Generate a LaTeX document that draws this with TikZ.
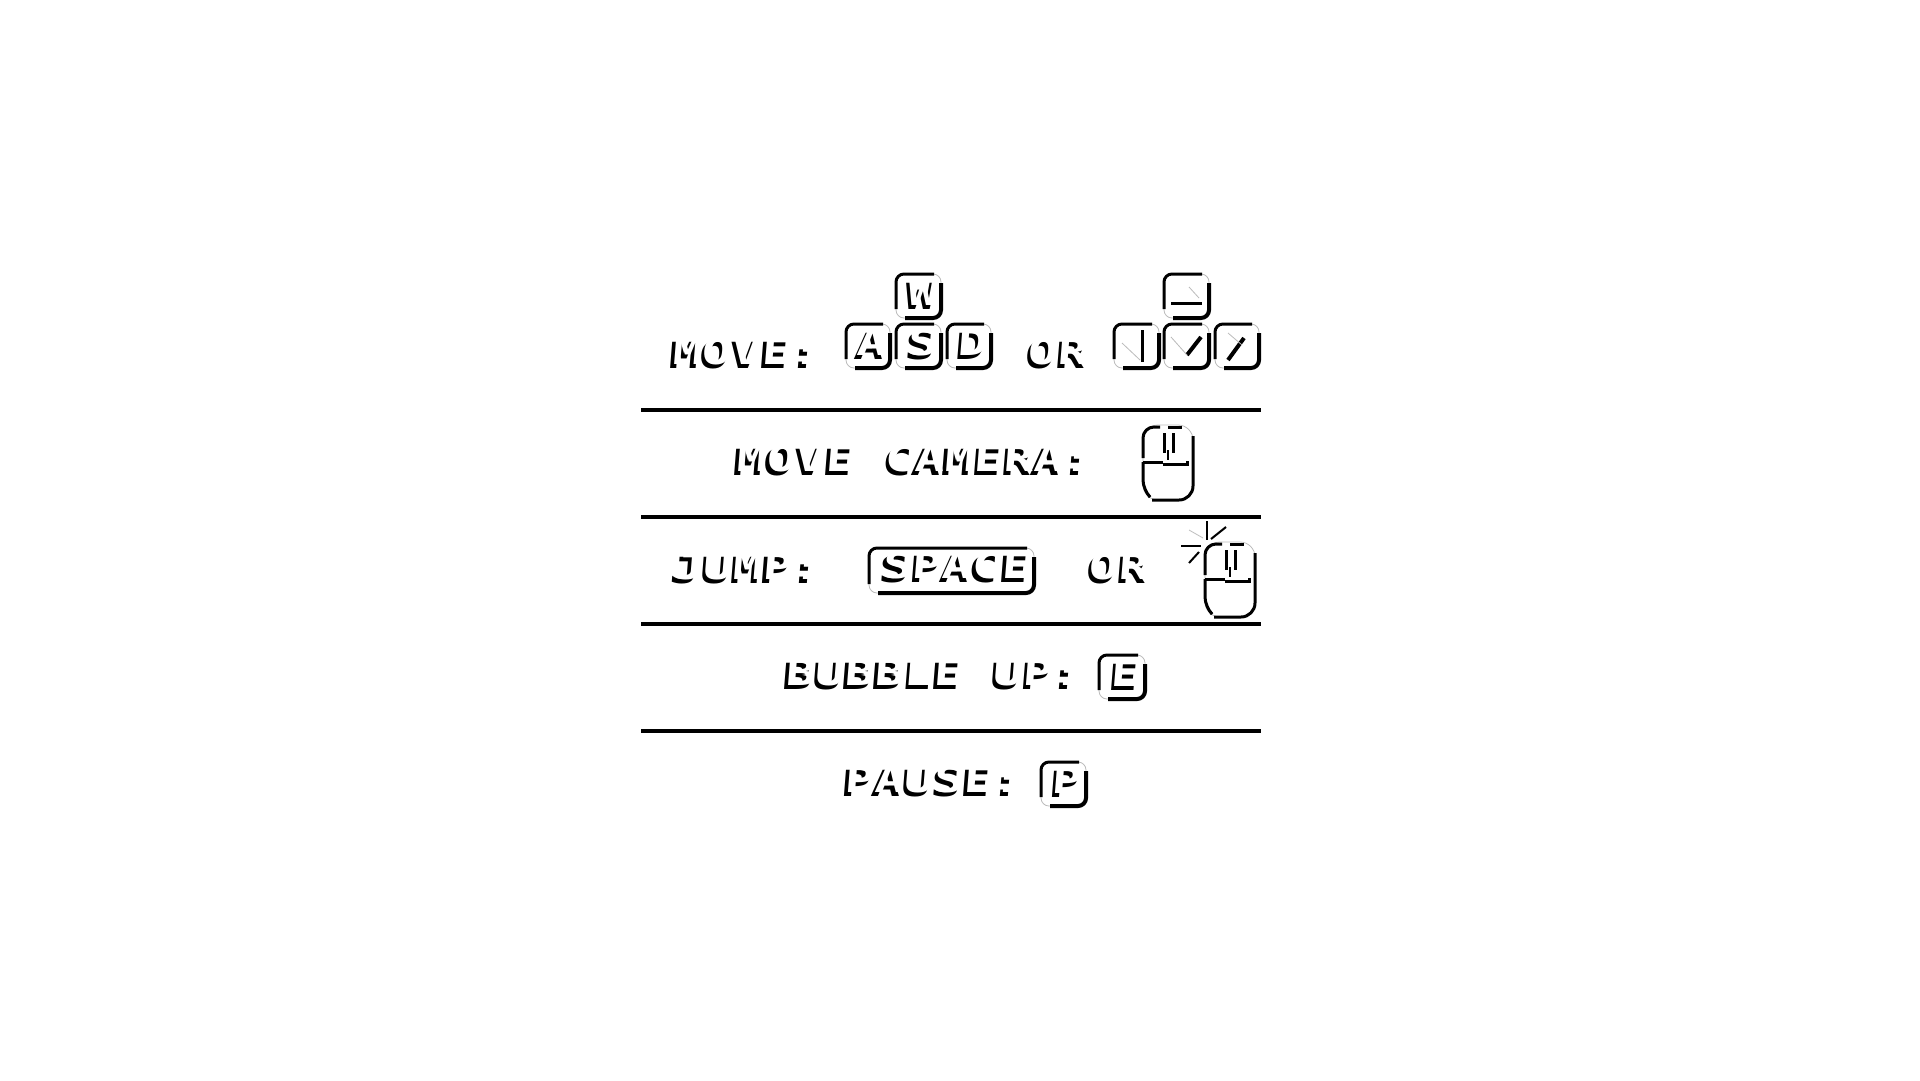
\documentclass[tikz,border=0pt]{standalone}
\usepackage{fontspec}
\newfontfamily\pixfont[FakeStretch=1.37,FakeSlant=0.08]{DejaVu Sans Mono Bold}
\definecolor{faint}{HTML}{BBBBBB}
\tikzset{
  rule/.style={line width=3.5pt,black},
  ink/.style={line width=3pt,black},
  faintline/.style={line width=0.8pt,faint},
  pixblack/.style={font=\pixfont\fontsize{36}{36}\selectfont,text=black,inner sep=0pt,text height=26pt,text depth=0pt},
  pixwhite/.style={font=\pixfont\fontsize{36}{36}\selectfont,text=white,inner sep=0pt,text height=26pt,text depth=0pt},
}
% name, centre x, centre y, text
\newcommand\shlabel[4]{%
  \node[pixblack] (#1) at (#2,#3) {#4};
  \node[pixwhite] (#1w) at ({#2+3.5},{#3-3.5}) {#4};
}
% name, x0, y0, x1, y1
\newcommand\keyframe[5]{%
  \coordinate (#1) at ({(#2+#4)/2},{(#3+#5)/2});
  \draw[faintline,rounded corners=8pt] (#2,#3) rectangle (#4,#5);
  \draw[ink,rounded corners=8pt] (#2,{#5-9}) -- (#2,#3) -- ({#4-7},#3);
  \draw[ink,line width=4pt,rounded corners=8pt] ({#2+9},#5) -- (#4,#5) -- (#4,{#3+9});
}
% name, shift x, shift y
\newcommand\mousebody[3]{%
  \begin{scope}[shift={(#2,#3)}]
    \coordinate (#1) at (1168,462);
    \draw[faintline,rounded corners=15pt] (1143,425) rectangle (1193,500);
    \draw[ink,rounded corners=11pt] (1143,458) -- (1143,427) -- (1160,427);
    \draw[ink,rounded corners=3pt] (1168,427) -- (1182,427);
    \draw[ink,rounded corners=14pt] (1193,436) -- (1193,500) -- (1152,500);
    \draw[ink,rounded corners=10pt] (1149,496) -- (1143,490) -- (1143,462);
    \draw[ink] (1143,462) -- (1163,462);
    \draw[ink] (1163,464) -- (1187,464) -- (1187,461);
    \draw[ink] (1164,433) -- (1164,453);
    \draw[ink] (1173,433) -- (1173,453);
    \draw[ink,line width=2pt] (1168,450) -- (1168,460);
  \end{scope}
}
\begin{document}
\begin{tikzpicture}[x=1pt,y=-1pt]
\useasboundingbox (0,0) rectangle (1920,1080);
\fill[white] (0,0) rectangle (1920,1080);

% rules
\coordinate (r1a) at (641,410); \coordinate (r1b) at (1261,410);
\coordinate (r2a) at (641,517); \coordinate (r2b) at (1261,517);
\coordinate (r3a) at (641,624); \coordinate (r3b) at (1261,624);
\coordinate (r4a) at (641,731); \coordinate (r4b) at (1261,731);
\draw[rule] (r1a) -- (r1b);
\draw[rule] (r2a) -- (r2b);
\draw[rule] (r3a) -- (r3b);
\draw[rule] (r4a) -- (r4b);

% row 1
\shlabel{move}{743}{355}{MOVE:}
\keyframe{kw}{896}{274}{941}{318}
\shlabel{lw}{919}{296}{W}
\keyframe{ka}{846}{324}{890}{368}
\shlabel{la}{868}{346}{A}
\keyframe{ks}{896}{324}{941}{368}
\shlabel{ls}{919}{346}{S}
\keyframe{kd}{947}{324}{991}{368}
\shlabel{ld}{969}{346}{D}
\shlabel{or1}{1054}{355}{OR}
\keyframe{kup}{1164}{274}{1209}{318}
\keyframe{kleft}{1114}{324}{1159}{368}
\keyframe{kdown}{1164}{324}{1209}{368}
\keyframe{kright}{1215}{324}{1259}{368}
\draw[ink] (1171,303) -- (1202,303);
\draw[faintline] (1189,287) -- (1199,298);
\draw[ink] (1142,330) -- (1142,362);
\draw[faintline] (1122,343) -- (1140,360);
\draw[ink,line width=4pt] (1187,355) -- (1201,337);
\draw[faintline] (1171,337) -- (1187,355);
\draw[ink,line width=4pt] (1228,360) -- (1244,338);
\draw[faintline] (1228,333) -- (1242,345);

% row 2
\shlabel{cam}{911}{462}{MOVE CAMERA:}
\mousebody{m1}{0}{0}

% row 3
\shlabel{jump}{744}{570}{JUMP:}
\keyframe{kspace}{869}{548}{1034}{593}
\shlabel{lspace}{953}{569}{SPACE}
\shlabel{or2}{1115}{570}{OR}
\mousebody{m2}{62}{117}
\draw[ink,line width=2pt] (1206.5,521) -- (1206.5,540);
\draw[ink,line width=2pt] (1211,539) -- (1226,527);
\draw[ink,line width=2pt] (1181,546) -- (1201,546);
\draw[ink,line width=2pt] (1189,563) -- (1199,552);
\draw[faintline] (1189,530) -- (1203,538);

% row 4
\shlabel{bubble}{930}{676}{BUBBLE UP:}
\keyframe{ke}{1099}{655}{1145}{699}
\shlabel{le}{1122}{677}{E}

% row 5
\shlabel{pause}{930}{783}{PAUSE:}
\keyframe{kp}{1041}{762}{1086}{806}
\shlabel{lp}{1063}{784}{P}
\end{tikzpicture}
\end{document}
